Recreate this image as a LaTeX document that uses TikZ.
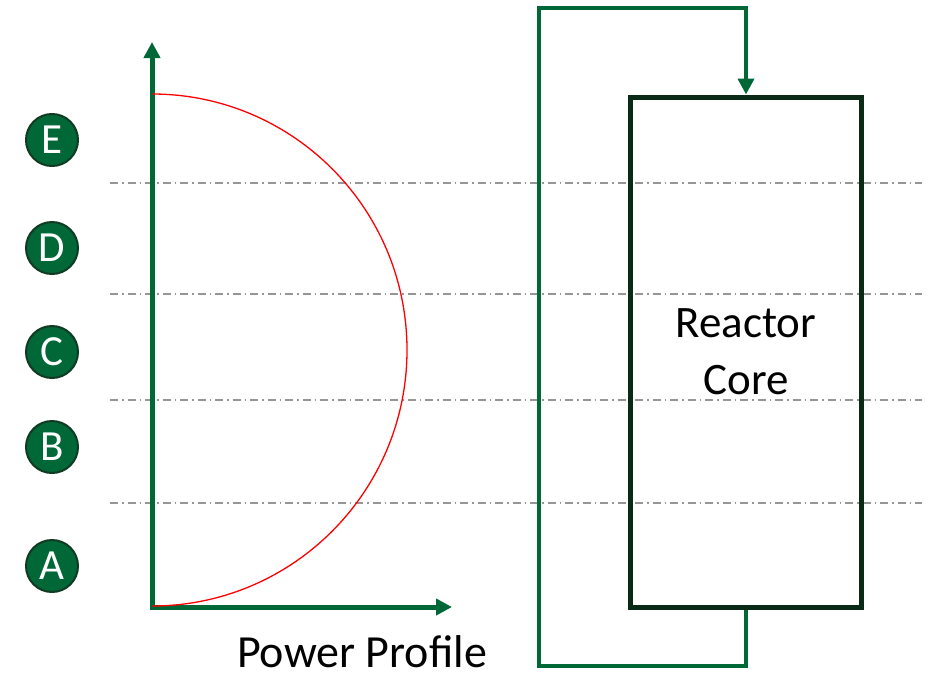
\documentclass[tikz,border=0pt]{standalone}
\usepackage{fontspec}
\setmainfont{Carlito}
\usetikzlibrary{arrows.meta}
\definecolor{pgreen}{RGB}{0,104,55}
\definecolor{dgreen}{RGB}{10,42,24}
\definecolor{cborder}{RGB}{16,58,34}
\definecolor{dashgray}{RGB}{150,150,150}
\tikzset{
  axis/.style={pgreen,line width=5pt,-{Triangle[length=16pt,width=16pt]}},
  loopline/.style={pgreen,line width=4pt},
  zone/.style={circle,draw=cborder,line width=2pt,fill=pgreen,text=white,minimum size=52pt,inner sep=0pt,font=\fontsize{43}{43}\selectfont},
  sep/.style={dashgray,line width=1.3pt,dash pattern=on 8pt off 4pt on 1.5pt off 4pt},
  corebox/.style={draw=dgreen,line width=5pt,minimum width=231pt,minimum height=510pt,inner sep=0pt,align=center,font=\fontsize{45}{57}\selectfont},
  lbl/.style={font=\fontsize{46}{50}\selectfont,inner sep=0pt,anchor=base}
}
\begin{document}
\begin{tikzpicture}[x=1pt,y=-1pt]
\useasboundingbox (0,0) rectangle (936,680);
% separators
\foreach \yy in {183,294,400,503} \draw[sep] (110,\yy) -- (922,\yy);
% axes
\coordinate (o) at (152,607);
\coordinate (ytip) at (152,42);
\coordinate (xtip) at (452,607);
\draw[axis] ([yshift=2.5pt]o) -- (ytip);
\draw[axis] ([xshift=-2.5pt]o) -- (xtip);
% power curve
\draw[red,line width=1.3pt] (152,94) arc[start angle=90,end angle=-90,x radius=255,y radius=-256];
% zone labels
\node[zone] (E) at (52,140) {E};
\node[zone] (D) at (52,248) {D};
\node[zone] (C) at (52,352) {C};
\node[zone] (B) at (52,447) {B};
\node[zone] (A) at (52,566) {A};
% reactor core
\node[corebox] (core) at (746,352) {Reactor\\Core};
\coordinate (bl) at (539,666);
\coordinate (tl) at (539,8);
\draw[loopline] (core.south -| 746,0) -- (746,666) -- (bl) -- (tl) -- (746,8);
\draw[loopline,-{Triangle[length=16pt,width=16pt]}] (746,6) -- (core.north);
\node[lbl] (pp) at (362,667) {Power Profile};
\end{tikzpicture}
\end{document}
